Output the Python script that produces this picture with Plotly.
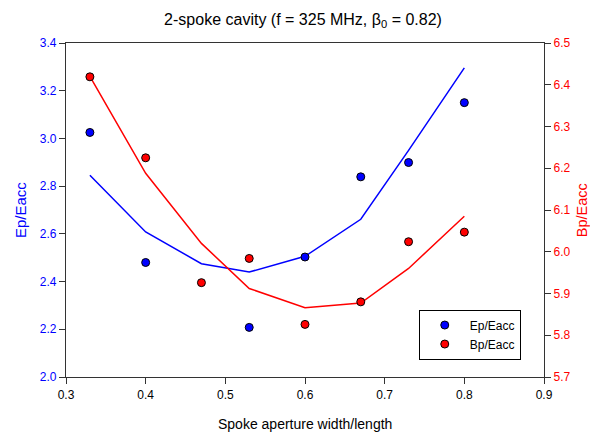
import plotly.graph_objects as go

x_vals = [0.33, 0.40, 0.47, 0.53, 0.60, 0.67, 0.73, 0.80]
ep_fit = [2.846, 2.608, 2.475, 2.44, 2.506, 2.661, 2.95, 3.296]
bp_fit = [6.42, 6.188, 6.02, 5.912, 5.866, 5.877, 5.96, 6.085]
ep_pts = [3.025, 2.48, None, 2.208, 2.503, 2.839, 2.899, 3.15]
bp_pts = [6.419, 6.225, 5.926, 5.984, 5.826, 5.88, 6.024, 6.047]

x_ticks = [0.3, 0.4, 0.5, 0.6, 0.7, 0.8, 0.9]
ep_ticks = [2.0, 2.2, 2.4, 2.6, 2.8, 3.0, 3.2, 3.4]
bp_ticks = [5.7, 5.8, 5.9, 6.0, 6.1, 6.2, 6.3, 6.4, 6.5]

BLUE = "#0000ff"
RED = "#ff0000"
FONT = "Liberation Sans, Arial, sans-serif"

fig = go.Figure()
fig.add_trace(go.Scatter(x=x_vals, y=ep_fit, mode="lines", line=dict(color=BLUE, width=1.5),
                         showlegend=False, yaxis="y"))
fig.add_trace(go.Scatter(x=x_vals, y=bp_fit, mode="lines", line=dict(color=RED, width=1.5),
                         showlegend=False, yaxis="y2"))
fig.add_trace(go.Scatter(x=x_vals, y=ep_pts, mode="markers", name="Ep/Eacc",
                         marker=dict(color=BLUE, size=8, line=dict(color="black", width=1)),
                         yaxis="y"))
fig.add_trace(go.Scatter(x=x_vals, y=bp_pts, mode="markers", name="Bp/Eacc",
                         marker=dict(color=RED, size=8, line=dict(color="black", width=1)),
                         yaxis="y2"))

axis_common = dict(showgrid=False, zeroline=False, showline=True, linecolor="#333333",
                   linewidth=1.3, ticks="outside", ticklen=6, tickcolor="#333333",
                   automargin=False)

fig.update_layout(
    width=590, height=427,
    margin=dict(l=58, r=54, t=35, b=58),
    paper_bgcolor="white", plot_bgcolor="white",
    font=dict(family=FONT, size=12, color="black"),
    title=dict(text="2-spoke cavity (f = 325 MHz, β<sub>0</sub> = 0.82)",
               x=0.5, xanchor="center", y=0.974, yanchor="middle",
               font=dict(family=FONT, size=16, color="black")),
    xaxis=dict(range=[0.3, 0.9], tickvals=x_ticks, ticktext=[f"{v:.1f}" for v in x_ticks],
               mirror=True, tickfont=dict(size=12, color="black"), **axis_common),
    yaxis=dict(range=[2.0, 3.4], tickvals=ep_ticks, ticktext=[f"{v:.1f}" for v in ep_ticks],
               tickfont=dict(size=12, color=BLUE), **axis_common),
    yaxis2=dict(range=[5.7, 6.5], tickvals=bp_ticks, ticktext=[f"{v:.1f}" for v in bp_ticks],
                overlaying="y", side="right", anchor="x",
                tickfont=dict(size=12, color=RED), **axis_common),
    legend=dict(x=0.738, y=0.202, xanchor="left", yanchor="top",
                bordercolor="black", borderwidth=1, bgcolor="white",
                font=dict(size=12), itemwidth=40, tracegroupgap=0),
    annotations=[
        dict(text="Spoke aperture width/length", xref="paper", yref="paper",
             x=0.5, y=-0.141, xanchor="center", yanchor="middle", showarrow=False,
             font=dict(size=14, color="black")),
        dict(text="Ep/Eacc", xref="paper", yref="paper", x=-0.096, y=0.5,
             xanchor="center", yanchor="middle", textangle=-90, showarrow=False,
             font=dict(size=15, color=BLUE)),
        dict(text="Bp/Eacc", xref="paper", yref="paper", x=1.08, y=0.5,
             xanchor="center", yanchor="middle", textangle=-90, showarrow=False,
             font=dict(size=14.5, color=RED)),
    ],
)

fig.write_html("out.html")
